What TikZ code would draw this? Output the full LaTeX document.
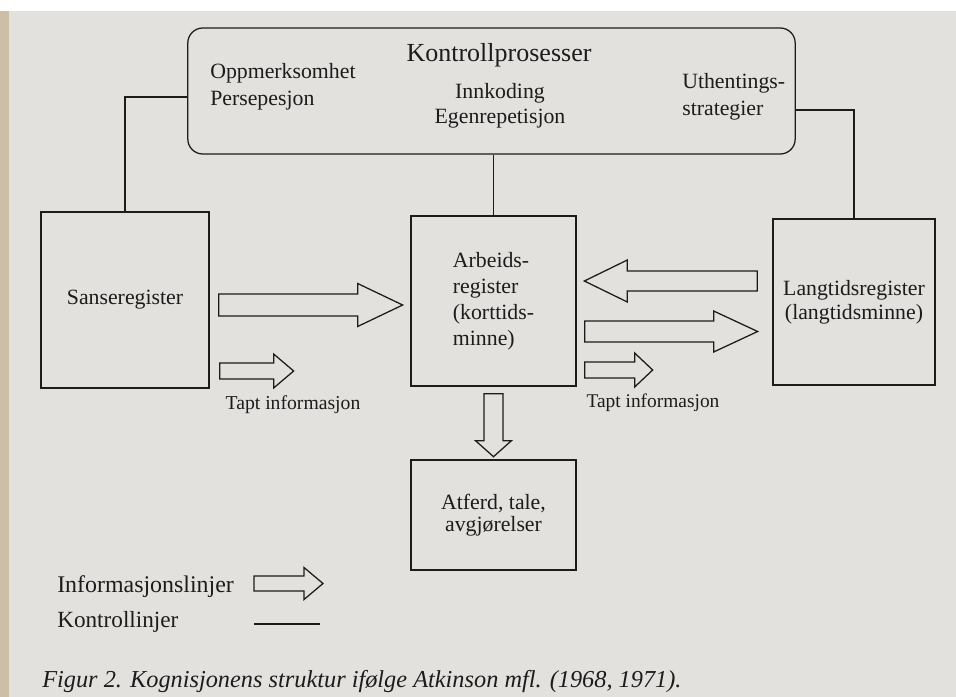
\documentclass[tikz,border=0pt]{standalone}
\usepackage{fontspec}
\setmainfont{Liberation Serif}
\usetikzlibrary{calc, positioning}
\definecolor{ink}{HTML}{1C1C1C}
\definecolor{paper}{HTML}{E2E1DE}
\definecolor{spine}{HTML}{CDBEA6}

\tikzset{
  % hollow block arrow: length, shaft half width, head half width, head length
  pics/fatarrow/.style n args={4}{code={
    \draw[info] (0,-#2) -- ({#1-#4},-#2) -- ({#1-#4},-#3) -- (#1,0)
      -- ({#1-#4},#3) -- ({#1-#4},#2) -- (0,#2) -- cycle;
  }},
}

\begin{document}
\begin{tikzpicture}[x=0.025cm, y=-0.025cm,
    register/.style={draw=ink, line width=0.9pt, inner sep=0pt, text=ink, align=center,
      font={\fontsize{15.5}{18.5}\selectfont}},
    tekst/.style={inner sep=0pt, text=ink, align=center, font={\fontsize{15.5}{19}\selectfont}},
    ctrl/.style={draw=ink, line width=0.9pt},
    info/.style={draw=ink, line width=0.9pt, line join=miter}]

    % Page background
    \fill[paper] (0,0) rectangle (956,697);
    \fill[white] (0,0) rectangle (956,11);
    \fill[spine] (0,11) rectangle (9,697);
    \useasboundingbox (0,0) rectangle (956,697);

    % Control processes
    \node[ctrl, rounded corners=0.375cm, minimum width=15.18cm, minimum height=3.15cm] (kontroll) at (491.5,91) {};
    \node[tekst, font={\fontsize{18.5}{22}\selectfont}] (tittel) at (499,55) {Kontrollprosesser};
    \node[tekst, anchor=west, align=left] (oppm) at (210,86.5) {Oppmerksomhet\\Persepesjon};
    \node[tekst, font={\fontsize{15.5}{17.8}\selectfont}] (innkod) at (500,105.5) {Innkoding\\Egenrepetisjon};
    \node[tekst, anchor=west, align=left] (uthent) at (682,96.5) {Uthentings-\\strategier};

    % Registers
    \node[register, minimum width=4.2cm, minimum height=4.4cm] (sanse) at (125,300) {Sanseregister};
    \node[register, minimum width=4.125cm, minimum height=4.25cm, align=left] (arbeid) at (493.5,301)
        {Arbeids-\\register\\(korttids-\\minne)};
    \node[register, minimum width=4.05cm, minimum height=4.15cm, font={\fontsize{15.5}{17}\selectfont}] (langtid) at (854,302)
        {Langtidsregister\\(langtidsminne)};
    \node[register, minimum width=4.125cm, minimum height=2.75cm, font={\fontsize{15.5}{15.8}\selectfont}] (atferd) at (493.5,515)
        {Atferd, tale,\\avgjørelser};

    % Control lines
    \draw[ctrl] ($(kontroll.west)+(0,6)$) -| (sanse.north);
    \draw[ctrl] (arbeid.north |- kontroll.south) -- (arbeid.north);
    \draw[ctrl] ($(kontroll.east)+(0,19)$) -| (langtid.north);

    % Information lines
    \pic at ($(sanse.east)+(9,5)$) {fatarrow={184}{11}{21.5}{45}};
    \pic at ($(sanse.east)+(10,71)$) {fatarrow={74}{8}{17}{20}};
    \pic[rotate=180] at ($(langtid.west)+(-15,-21)$) {fatarrow={173}{10}{21}{43}};
    \pic at ($(arbeid.east)+(8,30.5)$) {fatarrow={173}{10.5}{20.5}{44}};
    \pic at ($(arbeid.east)+(8,69)$) {fatarrow={68}{8}{17}{18}};
    \pic[rotate=-90] at ($(arbeid.south)+(0,7)$) {fatarrow={63}{9.5}{18}{16}};

    \node[tekst, font={\fontsize{14}{16}\selectfont}] (tapt1) at (293,405) {Tapt informasjon};
    \node[tekst, font={\fontsize{13.8}{16}\selectfont}] (tapt2) at (653,403) {Tapt informasjon};

    % Legend
    \node[tekst, anchor=west, font={\fontsize{17}{20}\selectfont}] (infolinje) at (57,587) {Informasjonslinjer};
    \node[tekst, anchor=west, font={\fontsize{16.5}{20}\selectfont}] (ctrllinje) at (57,622) {Kontrollinjer};
    \pic at (254,583.5) {fatarrow={69}{7.5}{16}{19}};
    \coordinate (ctrlstart) at (254,624);
    \coordinate (ctrlend) at (320,624);
    \draw[ctrl] (ctrlstart) -- (ctrlend);

    % Caption
    \node[tekst, anchor=west, font={\itshape\fontsize{17.3}{20}\selectfont}] (figtekst) at (42,682)
        {Figur 2. Kognisjonens struktur ifølge Atkinson mfl. (1968, 1971).};
\end{tikzpicture}
\end{document}
